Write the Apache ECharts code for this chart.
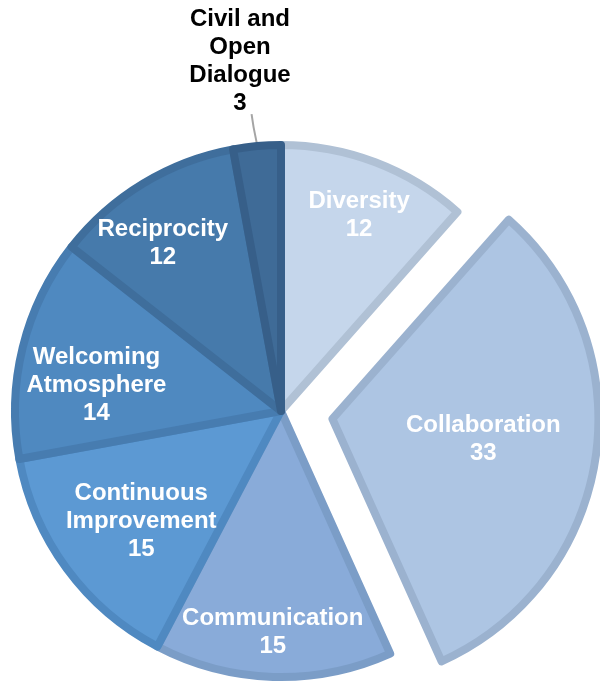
<!DOCTYPE html>
<html>
<head>
<meta charset="utf-8">
<script src="https://cdn.jsdelivr.net/npm/echarts@6/dist/echarts.min.js"></script>
<style>
  html, body { margin: 0; padding: 0; background: #fff; }
  #chart { width: 600px; height: 683px; }
</style>
</head>
<body>
<div id="chart"></div>
<script>
// Survey themes and how often each was mentioned
const categories = ['Diversity', 'Collaboration', 'Communication', 'Continuous Improvement',
                    'Welcoming Atmosphere', 'Reciprocity', 'Civil and Open Dialogue'];
const values = [12, 33, 15, 15, 14, 12, 3];
const labelNames = ['Diversity', 'Collaboration', 'Communication', 'Continuous\nImprovement',
                    'Welcoming\nAtmosphere', 'Reciprocity', 'Civil and\nOpen\nDialogue'];

// Slice styling
const fills   = ['#c5d6eb', '#adc5e3', '#89abd9', '#5c99d3', '#4f89c0', '#467aab', '#3f6b97'];
const borders = ['#b0c1d5', '#9bb2cf', '#7b9dc7', '#4f89c1', '#477cb0', '#3f6e9c', '#375f89'];

// Pie geometry
const CX = 281, CY = 411, R = 266, BORDER = 8, EXPLODE = 52;
// label placement: [fraction of radius, angular tweak in degrees]
const labelPolar = [[0.78, 1], null, [0.82, 0.4], [0.66, -2], [0.69, -6], [0.76, -4], null];

const total = values.reduce((a, b) => a + b, 0);
const midAngles = [];
(function () {
  let acc = 0;
  values.forEach(v => {
    midAngles.push((acc + v / 2) / total * 360);
    acc += v;
  });
})();
const dirOf = deg => {
  const a = deg * Math.PI / 180;
  return [Math.sin(a), -Math.cos(a)];
};

const data = values.map((v, i) => {
  const item = {
    name: categories[i],
    value: v,
    itemStyle: { color: fills[i], borderColor: borders[i], borderWidth: BORDER }
  };
  if (i === 1) {
    // pulled-out slice keeps its own inside label, nudged outward a little
    item.selected = true;
    item.label = { padding: [0, 0, 12, 33] };
    item.select = { label: { padding: [0, 0, 12, 33] } };
  }
  if (i === 6) {
    item.label = { position: 'outside', color: '#000' };
    item.labelLine = { show: true, lineStyle: { color: '#a5a5a5', width: 2 } };
  }
  return item;
});

const chart = echarts.init(document.getElementById('chart'), null, { renderer: 'canvas' });
chart.setOption({
  animation: false,
  series: [{
    type: 'pie',
    center: [CX, CY],
    radius: R,
    startAngle: 90,
    clockwise: true,
    selectedMode: 'single',
    selectedOffset: EXPLODE,
    avoidLabelOverlap: false,
    emphasis: { disabled: true },
    select: { itemStyle: {} },
    label: {
      show: true,
      position: 'inside',
      color: '#ffffff',
      fontFamily: 'Liberation Sans, Arial, sans-serif',
      fontWeight: 'bold',
      fontSize: 24,
      lineHeight: 28,
      align: 'center',
      formatter: p => labelNames[p.dataIndex] + '\n' + p.value
    },
    labelLine: { show: false },
    labelLayout: function (params) {
      const i = params.dataIndex;
      if (i === 6) {
        const d = dirOf(midAngles[i]);
        const sx = CX + (R + BORDER / 2) * d[0];
        const sy = CY + (R + BORDER / 2) * d[1];
        return {
          x: 240, y: 61,
          align: 'center', verticalAlign: 'middle',
          labelLinePoints: [[sx, sy], [sx - 3, sy - 15], [sx - 5, sy - 28]]
        };
      }
      const lp = labelPolar[i];
      if (!lp) return {};
      const d = dirOf(midAngles[i] + lp[1]);
      const dist = lp[0] * (R + BORDER / 2);
      return {
        x: CX + dist * d[0],
        y: CY + dist * d[1],
        align: 'center',
        verticalAlign: 'middle'
      };
    },
    data: data
  }]
});
</script>
</body>
</html>
